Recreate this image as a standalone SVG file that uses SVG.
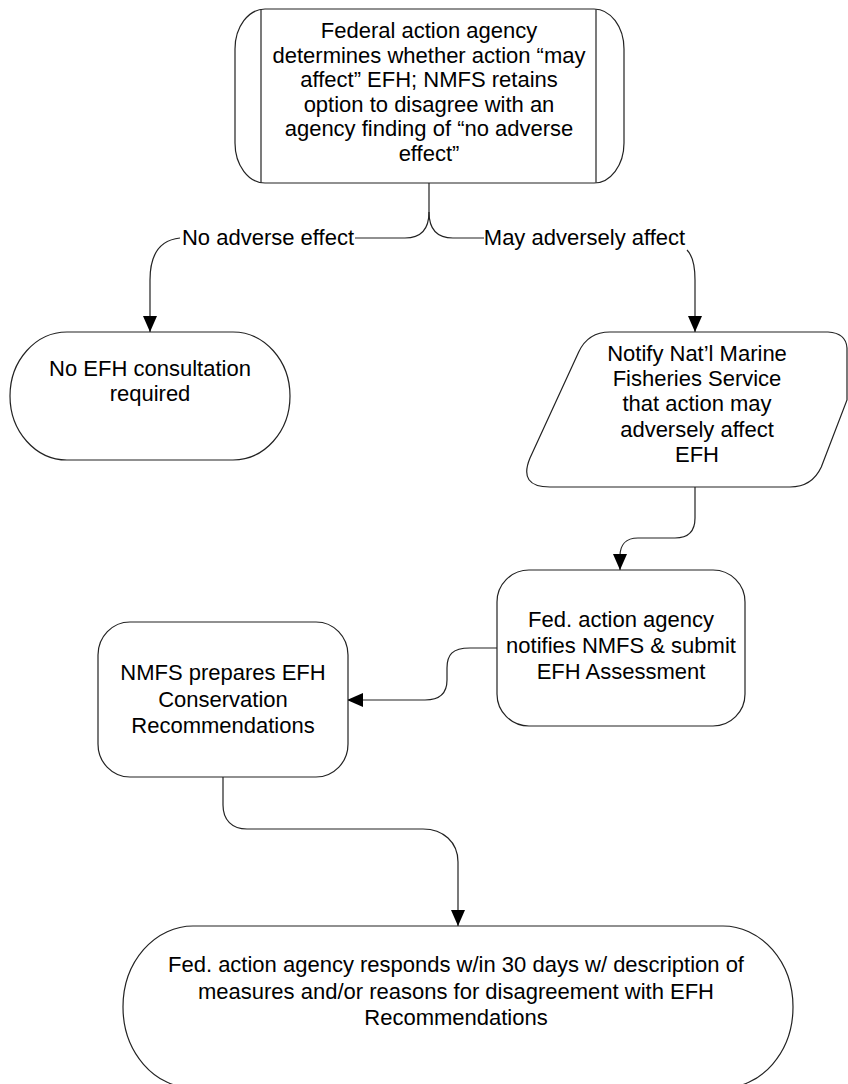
<svg xmlns="http://www.w3.org/2000/svg" width="848" height="1084" viewBox="0 0 848 1084">
<defs>
<marker id="arr" viewBox="0 0 16 14" refX="16" refY="7" markerWidth="16" markerHeight="14" markerUnits="userSpaceOnUse" orient="auto">
<path d="M0,0 L16,7 L0,14 z" fill="#000"/>
</marker>
<style>
.shape{fill:#fff;stroke:#222;stroke-width:1.2}
.conn{fill:none;stroke:#222;stroke-width:1.2}
text{font-family:"Liberation Sans",Arial,sans-serif;font-size:22px;fill:#000;text-anchor:middle}
</style>
</defs>
<rect width="848" height="1084" fill="#fff"/>
<g id="connectors">
<path class="conn" d="M429 183 L429 212 C429 230 420 238 405 238 L355 238"/>
<path class="conn" d="M429 212 C429 230 438 238 453 238 L484 238"/>
<path class="conn" d="M180 238 C160 240 150 255 150 280 L150 332" marker-end="url(#arr)"/>
<path class="conn" d="M687 250 C693 256 695 265 695 280 L695 332" marker-end="url(#arr)"/>
<path class="conn" d="M695 487 L695 518 C695 532 688 538 675 538 L638 538 C626 538 620 545 620 556 L620 570" marker-end="url(#arr)"/>
<path class="conn" d="M497 648 L470 648 C452 648 447 655 447 668 L447 680 C447 693 440 700 425 700 L347 700" marker-end="url(#arr)"/>
<path class="conn" d="M223 777 L223 805 C223 820 232 829 247 829 L423 829 C443 829 458 842 458 862 L458 926" marker-end="url(#arr)"/>
<text x="268" y="245">No adverse effect</text>
<text x="584.5" y="245">May adversely affect</text>
</g>
<g id="node-determine">
<rect class="shape" x="235" y="9" width="389" height="174" rx="30" ry="40"/>
<line class="conn" x1="261" y1="9.5" x2="261" y2="182.5"/>
<line class="conn" x1="596" y1="9.5" x2="596" y2="182.5"/>
<text x="429" y="38">Federal action agency</text>
<text x="429" y="62.5">determines whether action “may</text>
<text x="429" y="87">affect” EFH; NMFS retains</text>
<text x="429" y="111.5">option to disagree with an</text>
<text x="429" y="136">agency finding of “no adverse</text>
<text x="429" y="160.5">effect”</text>
</g>
<g id="node-no-consult">
<rect class="shape" x="10" y="332" width="280" height="128" rx="57" ry="64"/>
<text x="150" y="376">No EFH consultation</text>
<text x="150" y="401">required</text>
</g>
<g id="node-notify">
<path class="shape" d="M610 332 L828 332 Q846 333 847 348 L847 400 L821.3 467 Q812 487 790 487 L550 487 Q518 487 530 458 L578.7 352 Q588 332 610 332 Z"/>
<text x="697" y="361">Notify Nat’l Marine</text>
<text x="697" y="386">Fisheries Service</text>
<text x="697" y="411">that action may</text>
<text x="697" y="436.5">adversely affect</text>
<text x="697" y="461.5">EFH</text>
</g>
<g id="node-assessment">
<rect class="shape" x="497" y="570" width="248" height="156" rx="32" ry="32"/>
<text x="621" y="627">Fed. action agency</text>
<text x="621" y="653">notifies NMFS &amp; submit</text>
<text x="621" y="679">EFH Assessment</text>
</g>
<g id="node-recommend">
<rect class="shape" x="98" y="622" width="250" height="155" rx="32" ry="33"/>
<text x="223" y="680">NMFS prepares EFH</text>
<text x="223" y="706.5">Conservation</text>
<text x="223" y="733">Recommendations</text>
</g>
<g id="node-respond">
<rect class="shape" x="123" y="926" width="670" height="162" rx="70" ry="81"/>
<text x="456" y="972">Fed. action agency responds w/in 30 days w/ description of</text>
<text x="456" y="998.5">measures and/or reasons for disagreement with EFH</text>
<text x="456" y="1025">Recommendations</text>
</g>
</svg>
